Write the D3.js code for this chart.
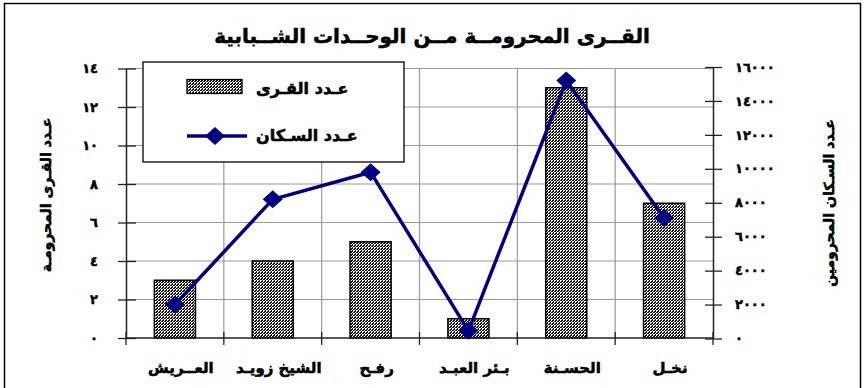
<!DOCTYPE html>
<html lang="ar">
<head>
<meta charset="utf-8">
<script src="https://cdn.jsdelivr.net/npm/d3@7"></script>
<style>
  html, body { margin: 0; padding: 0; background: #fff; }
  svg { display: block; }
  text { font-family: "DejaVu Sans", sans-serif; font-weight: bold; fill: #000; }
  text.heavy { stroke: #000; stroke-width: 0.55px; paint-order: stroke; }
</style>
</head>
<body>
<svg id="chart" width="864" height="388"></svg>
<script>
// Villages without youth centres, by district
const categories = ["العــريش", "الشيخ زويـد", "رفـح", "بـئر العبـد", "الحسـنة", "نخـل"];
const villageCounts = [3, 4, 5, 1, 13, 7];
const population = [2000, 8200, 9800, 450, 15200, 7100];
const leftTicks = [0, 2, 4, 6, 8, 10, 12, 14];
const rightTicks = [0, 2000, 4000, 6000, 8000, 10000, 12000, 14000, 16000];

const titleText = "القــرى المحرومــة مــن الوحــدات الشــبابية";
const leftTitle = "عـدد القـرى المحرومـة";
const rightTitle = "عـدد السـكان المحرومين";
const legendBars = "عـدد القـرى";
const legendLine = "عـدد السـكان";

const arabicDigits = "٠١٢٣٤٥٦٧٨٩";
const toArabic = v => String(v).replace(/\d/g, d => arabicDigits[+d]);

const svg = d3.select("#chart");
const plot = { left: 126, right: 713, top: 68.5, bottom: 338 };

// scales
const xb = d3.scaleBand().domain(categories).range([plot.left, plot.right]);
const x = d3.scaleBand().domain(categories).range([plot.left, plot.right])
  .paddingInner(0.58).paddingOuter(0.29);
const yL = d3.scaleLinear().domain([0, 14]).range([plot.bottom, plot.top]);
const yR = d3.scaleLinear().domain([0, 16000]).range([plot.bottom + 0.5, 67]);

// fine dithered diagonal fill for the bars
const defs = svg.append("defs");
const pat = defs.append("pattern").attr("id", "hatch")
  .attr("patternUnits", "userSpaceOnUse").attr("width", 3).attr("height", 3);
pat.append("rect").attr("width", 3).attr("height", 3).attr("fill", "#fff");
const dither = [[2, 0], [1, 1], [0, 2], [0, 0], [1, 2]];
pat.selectAll(".px").data(dither).join("rect")
  .attr("x", d => d[0]).attr("y", d => d[1]).attr("width", 1).attr("height", 1)
  .attr("fill", "#111").attr("shape-rendering", "crispEdges");

// outer frame
svg.append("rect").attr("x", 4.5).attr("y", 3.5).attr("width", 856).attr("height", 400)
  .attr("fill", "none").attr("stroke", "#000").attr("stroke-width", 1.5);

// gridlines
const grid = svg.append("g").attr("stroke", "#9a9a9a").attr("stroke-width", 1.2);
grid.selectAll(".h").data(leftTicks.slice(1)).join("line")
  .attr("x1", plot.left).attr("x2", plot.right)
  .attr("y1", d => yL(d)).attr("y2", d => yL(d));
grid.selectAll(".v").data(categories.slice(1)).join("line")
  .attr("x1", d => xb(d)).attr("x2", d => xb(d))
  .attr("y1", plot.top).attr("y2", plot.bottom);

// bars
svg.append("g").selectAll("rect").data(categories).join("rect")
  .attr("x", d => x(d))
  .attr("y", (d, i) => yL(villageCounts[i]))
  .attr("width", x.bandwidth())
  .attr("height", (d, i) => yL(0) - yL(villageCounts[i]))
  .attr("fill", "url(#hatch)")
  .attr("stroke", "#000").attr("stroke-width", 1.5);

// left axis
const gL = svg.append("g").attr("transform", `translate(${plot.left},0)`)
  .call(d3.axisLeft(yL).tickValues(leftTicks).tickFormat(toArabic)
    .tickSizeInner(8).tickSizeOuter(0).tickPadding(20));
gL.select(".domain").attr("stroke", "#222").attr("stroke-width", 1.5);
gL.selectAll(".tick line").attr("x1", 10).attr("stroke", "#222").attr("stroke-width", 1.3);
gL.selectAll(".tick text").attr("class", "heavy").attr("font-family", "DejaVu Sans")
  .attr("font-weight", "bold").attr("font-size", 13).attr("letter-spacing", 5).attr("direction", "ltr");

// right axis
const gR = svg.append("g").attr("transform", `translate(${plot.right},0)`)
  .call(d3.axisRight(yR).tickValues(rightTicks).tickFormat(toArabic)
    .tickSizeInner(9).tickSizeOuter(0).tickPadding(13));
gR.select(".domain").attr("stroke", "#222").attr("stroke-width", 1.5);
gR.selectAll(".tick line").attr("x1", -8).attr("stroke", "#222").attr("stroke-width", 1.3);
gR.selectAll(".tick text").attr("class", "heavy").attr("font-family", "DejaVu Sans")
  .attr("font-weight", "bold").attr("font-size", 13).attr("letter-spacing", 5).attr("direction", "ltr");

// bottom axis: line, boundary ticks and category labels
const gB = svg.append("g");
gB.append("line").attr("x1", plot.left).attr("x2", plot.right)
  .attr("y1", plot.bottom).attr("y2", plot.bottom)
  .attr("stroke", "#222").attr("stroke-width", 1.5);
gB.selectAll(".bt").data(categories.concat(["end"])).join("line")
  .attr("x1", d => d === "end" ? plot.right : xb(d))
  .attr("x2", d => d === "end" ? plot.right : xb(d))
  .attr("y1", plot.bottom - 6).attr("y2", plot.bottom + 7)
  .attr("stroke", "#222").attr("stroke-width", 1.3);
gB.selectAll("text").data(categories).join("text")
  .attr("class", "heavy")
  .attr("x", d => xb(d) + xb.bandwidth() / 2 + 6)
  .attr("y", 373)
  .attr("text-anchor", "middle")
  .attr("font-size", 15)
  .text(d => d);

// population line
const line = d3.line()
  .x((d, i) => xb(categories[i]) + xb.bandwidth() / 2)
  .y(d => yR(d));
svg.append("path").datum(population)
  .attr("d", line).attr("fill", "none")
  .attr("stroke", "#000080").attr("stroke-width", 3.5).attr("stroke-linejoin", "round");

const diamond = (cx, cy, w, h) => `M${cx},${cy - h}L${cx + w},${cy}L${cx},${cy + h}L${cx - w},${cy}Z`;
svg.append("g").selectAll("path").data(population).join("path")
  .attr("d", (d, i) => diamond(xb(categories[i]) + xb.bandwidth() / 2, yR(d), 10, 9))
  .attr("fill", "#000080");

// legend
const lg = svg.append("g");
lg.append("rect").attr("x", 143).attr("y", 62).attr("width", 261).attr("height", 100)
  .attr("fill", "#fff").attr("stroke", "#000").attr("stroke-width", 1.3);
lg.append("rect").attr("x", 187).attr("y", 79.5).attr("width", 55).attr("height", 14)
  .attr("fill", "url(#hatch)").attr("stroke", "#000").attr("stroke-width", 1.3);
lg.append("text").attr("class", "heavy").attr("x", 256).attr("y", 94).attr("font-size", 16).text(legendBars);
lg.append("line").attr("x1", 187).attr("x2", 247).attr("y1", 136).attr("y2", 136)
  .attr("stroke", "#000080").attr("stroke-width", 3.5);
lg.append("path").attr("d", diamond(215, 136, 10, 9)).attr("fill", "#000080");
lg.append("text").attr("class", "heavy").attr("x", 256).attr("y", 141).attr("font-size", 16).text(legendLine);

// titles
svg.append("text").attr("class", "heavy").attr("x", 432).attr("y", 43).attr("text-anchor", "middle")
  .attr("font-size", 20).text(titleText);
svg.append("text").attr("class", "heavy").attr("transform", "translate(51,195) rotate(-90)")
  .attr("text-anchor", "middle").attr("font-size", 14).text(leftTitle);
svg.append("text").attr("class", "heavy").attr("transform", "translate(834,203) rotate(-90)")
  .attr("text-anchor", "middle").attr("font-size", 14).text(rightTitle);
</script>
</body>
</html>
